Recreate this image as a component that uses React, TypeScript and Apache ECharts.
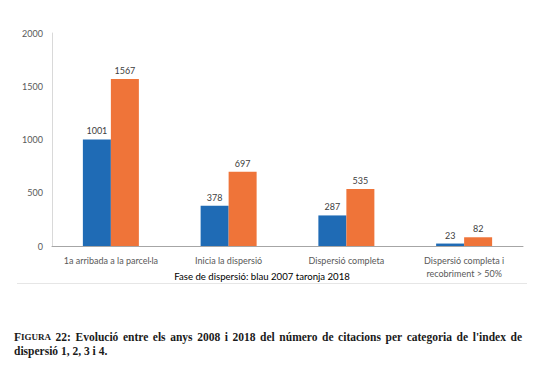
import React, { useEffect, useRef } from "react";
import * as echarts from "echarts";

const categories = [
  "1a arribada a la parcel·la",
  "Inicia la dispersió",
  "Dispersió completa",
  "Dispersió completa i\nrecobriment > 50%",
];
const values2007 = [1001, 378, 287, 23];
const values2018 = [1567, 697, 535, 82];
const yTicks = { min: 0, max: 2000, interval: 500 };
const axisTitle = "Fase de dispersió: blau 2007 taronja 2018";
const captionLabel = "FIGURA";
const captionLine1 = "22: Evolució entre els anys 2008 i 2018 del número de citacions per categoria de l'index de";
const captionLine2 = "dispersió 1, 2, 3 i 4.";

export default function App() {
  const ref = useRef<HTMLDivElement>(null);
  useEffect(() => {
    document.body.style.margin = "0";
    const chart = echarts.init(ref.current!, null, { renderer: "svg" });
    const labelFont = "Lato, 'Open Sans', sans-serif";
    const serif = "'Liberation Serif'";
    const capSize = 11.5;
    const scSize = 9;

    // measure words for justified caption line
    const cvs = document.createElement("canvas");
    const ctx = cvs.getContext("2d")!;
    const measure = (t: string, size: number) => {
      ctx.font = `bold ${size}px ${serif}`;
      return ctx.measureText(t).width;
    };
    const words = captionLine1.split(" ");
    const labelW = measure(captionLabel.charAt(0), capSize) + measure(captionLabel.slice(1), scSize);
    const widths = words.map((w) => measure(w, capSize));
    const startX = 14;
    const endX = 522;
    const total = labelW + widths.reduce((a, b) => a + b, 0);
    const gap = (endX - startX - total) / words.length;

    const captionEls: any[] = [];
    captionEls.push({
      type: "text",
      x: startX,
      y: 331,
      style: {
        text: `{a|${captionLabel.charAt(0)}}{b|${captionLabel.slice(1)}}`,
        rich: {
          a: { fontSize: capSize, fontWeight: "bold", fontFamily: serif, fill: "#1a1a1a" },
          b: { fontSize: scSize, fontWeight: "bold", fontFamily: serif, fill: "#1a1a1a" },
        },
      },
    });
    let x = startX + labelW + gap;
    words.forEach((w, i) => {
      captionEls.push({
        type: "text",
        x,
        y: 331,
        style: { text: w, fontSize: capSize, fontWeight: "bold", fontFamily: serif, fill: "#1a1a1a" },
      });
      x += widths[i] + gap;
    });
    captionEls.push({
      type: "text",
      x: startX,
      y: 345,
      style: { text: captionLine2, fontSize: capSize, fontWeight: "bold", fontFamily: serif, fill: "#1a1a1a" },
    });

    chart.setOption({
      animation: false,
      backgroundColor: "#ffffff",
      grid: { left: 52, right: 21, top: 33, bottom: 133, containLabel: false },
      xAxis: {
        type: "category",
        data: categories,
        axisLine: { lineStyle: { color: "#a6a6a6", width: 1 } },
        axisTick: { show: false },
        axisLabel: {
          color: "#595959",
          fontSize: 9,
          fontFamily: labelFont,
          margin: 8,
          lineHeight: 13,
          interval: 0,
        },
      },
      yAxis: {
        type: "value",
        min: yTicks.min,
        max: yTicks.max,
        interval: yTicks.interval,
        axisLine: { show: true, lineStyle: { color: "#d9d9d9" } },
        axisTick: { show: false },
        splitLine: { show: false },
        axisLabel: {
          color: "#595959",
          fontSize: 9,
          fontFamily: labelFont,
          margin: 9,
          formatter: (v: number) => String(v),
        },
      },
      series: [
        {
          type: "bar",
          data: values2007,
          barWidth: 28,
          barGap: "0%",
          itemStyle: { color: "#1f6bb5" },
          label: {
            show: true,
            position: "top",
            color: "#404040",
            fontSize: 9,
            fontFamily: labelFont,
            distance: 4,
          },
        },
        {
          type: "bar",
          data: values2018,
          barWidth: 28,
          barGap: "0%",
          itemStyle: { color: "#ef7439" },
          label: {
            show: true,
            position: "top",
            color: "#404040",
            fontSize: 9,
            fontFamily: labelFont,
            distance: 4,
          },
        },
      ],
      graphic: [
        {
          type: "text",
          x: 262,
          y: 276,
          style: {
            text: axisTitle,
            fill: "#000000",
            fontSize: 9.6,
            fontFamily: labelFont,
            align: "center",
            verticalAlign: "middle",
          },
        },
        {
          type: "rect",
          shape: { x: 17, y: 283, width: 510, height: 1 },
          style: { fill: "#e6e6e6" },
        },
        ...captionEls,
      ],
    });
    return () => chart.dispose();
  }, []);
  return <div ref={ref} style={{ width: 544, height: 379 }} />;
}
